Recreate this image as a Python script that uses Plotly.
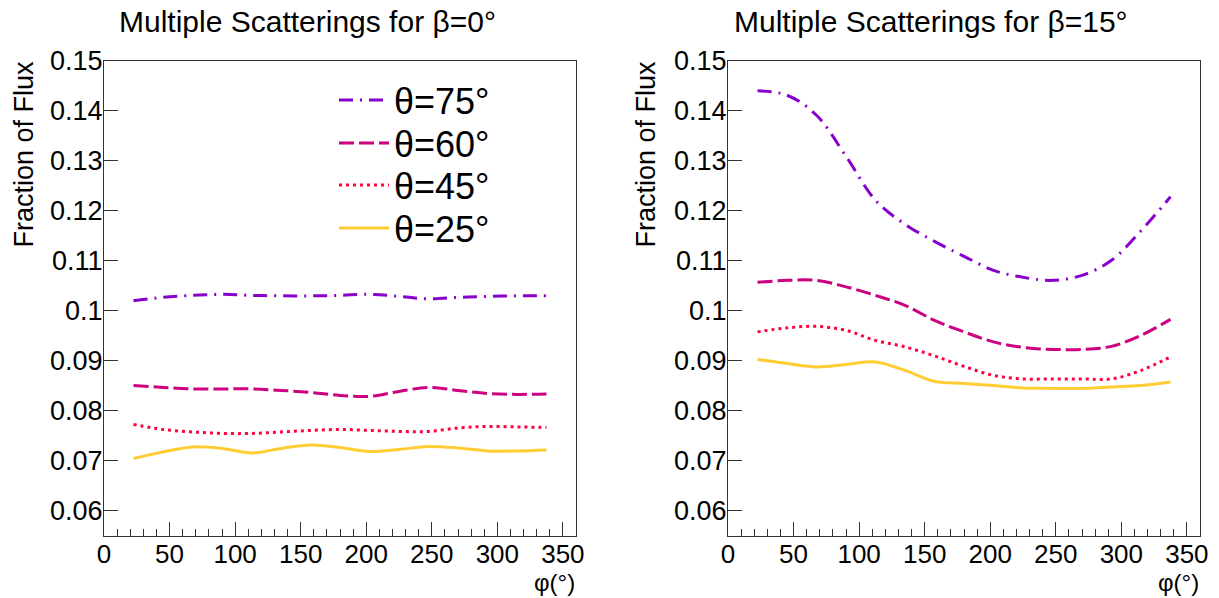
import plotly.graph_objects as go

# ---- data ----
phi = [22.5, 45, 67.5, 90, 112.5, 135, 157.5, 180, 202.5, 225, 247.5, 270, 292.5, 315, 337.5]

b0_t75 = [0.1020, 0.1027, 0.1031, 0.1033, 0.1031, 0.1030, 0.1030, 0.1031, 0.1033, 0.1029, 0.1024, 0.1027, 0.1029, 0.1030, 0.1030]
b0_t60 = [0.0851, 0.0847, 0.0844, 0.0844, 0.0844, 0.0841, 0.0837, 0.0831, 0.0829, 0.0839, 0.0847, 0.0841, 0.0835, 0.0833, 0.0834]
b0_t45 = [0.0773, 0.0763, 0.0758, 0.0755, 0.0755, 0.0758, 0.0761, 0.0763, 0.0761, 0.0759, 0.0759, 0.0766, 0.0769, 0.0768, 0.0767]
b0_t25 = [0.0705, 0.0718, 0.0728, 0.0725, 0.0716, 0.0725, 0.0732, 0.0727, 0.0719, 0.0723, 0.0729, 0.0726, 0.0720, 0.0720, 0.0722]

b15_t75 = [0.1440, 0.1431, 0.1391, 0.1309, 0.1221, 0.1173, 0.1139, 0.1109, 0.1081, 0.1067, 0.1061, 0.1071, 0.1101, 0.1160, 0.1228]
b15_t60 = [0.1057, 0.1061, 0.1061, 0.1048, 0.1031, 0.1011, 0.0981, 0.0958, 0.0938, 0.0927, 0.0923, 0.0923, 0.0929, 0.0951, 0.0983]
b15_t45 = [0.0958, 0.0966, 0.0969, 0.0961, 0.0941, 0.0928, 0.0910, 0.0889, 0.0871, 0.0864, 0.0864, 0.0864, 0.0864, 0.0881, 0.0908]
b15_t25 = [0.0903, 0.0895, 0.0888, 0.0893, 0.0898, 0.0881, 0.0859, 0.0855, 0.0851, 0.0846, 0.0845, 0.0845, 0.0848, 0.0851, 0.0858]

series_names = ["θ=75°", "θ=60°", "θ=45°", "θ=25°"]
panel_titles = ["Multiple Scatterings for β=0°", "Multiple Scatterings for β=15°"]
y_tickvals = [0.06, 0.07, 0.08, 0.09, 0.10, 0.11, 0.12, 0.13, 0.14, 0.15]
y_ticktext = ["0.06", "0.07", "0.08", "0.09", "0.1", "0.11", "0.12", "0.13", "0.14", "0.15"]
x_tickvals = [0, 50, 100, 150, 200, 250, 300, 350]
x_ticktext = ["0", "50", "100", "150", "200", "250", "300", "350"]
y_title = "Fraction of Flux"
x_title = "φ(°)"

# ---- style ----
FONT = "Liberation Sans, Arial, sans-serif"
colors = ["#8800cc", "#cc0080", "#ff0040", "#ffcc33"]
dashes = ["14px,7px,2px,7px", "15px,5px", "3px,4px", "solid"]
legend_ids = ["legend", "legend2", "legend3", "legend4"]
legend_yc = [100, 143, 185, 228]  # px centres of legend rows

W, H = 1219, 598
fig = go.Figure()

panels = [
    ("x", "y", [b0_t75, b0_t60, b0_t45, b0_t25], True),
    ("x2", "y2", [b15_t75, b15_t60, b15_t45, b15_t25], False),
]
for xa, ya, data, show in panels:
    for name, vals, c, d, lg in zip(series_names, data, colors, dashes, legend_ids):
        fig.add_trace(go.Scatter(
            x=phi, y=vals, mode="lines", name=name, xaxis=xa, yaxis=ya,
            line=dict(color=c, width=3, dash=d, shape="spline", smoothing=1),
            showlegend=show, legend=lg,
        ))

ydom = [1 - 536 / H, 1 - 60.7 / H]
xdoms = [[104 / W, 576 / W], [728 / W, 1200 / W]]

def xaxis_cfg(dom, anchor):
    return dict(
        domain=dom, anchor=anchor, range=[0, 360],
        tickvals=x_tickvals, ticktext=x_ticktext,
        ticks="inside", ticklen=14, tickwidth=1, tickcolor="#333",
        minor=dict(tickvals=[v for v in range(10, 360, 10) if v % 50 != 0],
                   ticks="inside", ticklen=7, tickwidth=1, tickcolor="#333"),
        showline=True, linecolor="#333", linewidth=1, mirror=True,
        showgrid=False, zeroline=False, automargin=False,
        tickfont=dict(family=FONT, size=26, color="black"),
        ticklabelstandoff=-5,
        fixedrange=True,
    )

def yaxis_cfg(anchor):
    return dict(
        domain=ydom, anchor=anchor, range=[0.055, 0.15],
        tickvals=y_tickvals, ticktext=y_ticktext,
        ticks="inside", ticklen=14, tickwidth=1, tickcolor="#333",
        showline=True, linecolor="#333", linewidth=1, mirror=True,
        showgrid=False, zeroline=False, automargin=False,
        tickfont=dict(family=FONT, size=27, color="black"),
        ticklabelstandoff=-5,
        fixedrange=True,
    )

layout_legends = {}
for lg, yc in zip(legend_ids, legend_yc):
    layout_legends[lg] = dict(
        x=334 / W, y=1 - yc / H, xanchor="left", yanchor="middle",
        bgcolor="rgba(0,0,0,0)", borderwidth=0,
        font=dict(family=FONT, size=36, color="black"),
        itemwidth=50,
    )

fig.update_layout(
    width=W, height=H, autosize=False,
    margin=dict(l=0, r=0, t=0, b=0, pad=0, autoexpand=False),
    paper_bgcolor="white", plot_bgcolor="white",
    xaxis=xaxis_cfg(xdoms[0], "y"),
    yaxis=yaxis_cfg("x"),
    xaxis2=xaxis_cfg(xdoms[1], "y2"),
    yaxis2=yaxis_cfg("x2"),
    showlegend=True,
    **layout_legends,
)

annotations = []
for cx, t in zip([307.5, 931], panel_titles):
    annotations.append(dict(text=t, x=cx / W, y=1 - 22 / H, xref="paper", yref="paper",
                            xanchor="center", yanchor="middle", showarrow=False,
                            font=dict(family=FONT, size=30, color="black")))
for cx in [23, 645]:
    annotations.append(dict(text=y_title, x=cx / W, y=1 - 154.5 / H, xref="paper", yref="paper",
                            xanchor="center", yanchor="middle", showarrow=False, textangle=-90,
                            font=dict(family=FONT, size=27, color="black")))
for rx in [577, 1201]:
    annotations.append(dict(text=x_title, x=rx / W, y=1 - 582 / H, xref="paper", yref="paper",
                            xanchor="right", yanchor="middle", showarrow=False,
                            font=dict(family=FONT, size=24, color="black")))
fig.update_layout(annotations=annotations)

fig.write_html("out.html", config={"displayModeBar": False},
               post_script="document.body.style.margin='0px';document.body.style.padding='0px';")
